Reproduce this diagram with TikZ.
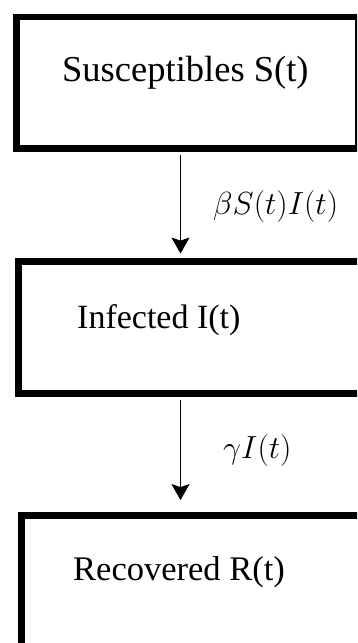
\documentclass[tikz,border=0pt]{standalone}
\usepackage{fix-cm}
\usepackage{fontspec}
\setmainfont{Liberation Serif}
\usetikzlibrary{arrows.meta}

\tikzset{
  compartment/.style={draw=black, line width=6.8pt, rectangle, inner sep=0pt},
  boxtext/.style={anchor=base west, inner sep=0pt},
  flow/.style={draw=black, line width=1.3pt, -{Stealth[length=16pt, width=18pt, inset=3pt]}},
  rate/.style={anchor=base west, inner sep=0pt, font=\fontsize{32}{38}\selectfont}
}

\begin{document}
\begin{tikzpicture}[x=1pt, y=-1pt]
  \clip (0,0) rectangle (357,643);
  \path[use as bounding box] (0,0) rectangle (357,643);

  % compartments (right and lower sides run past the frame)
  \node[compartment, minimum width=341.75pt, minimum height=131.5pt] (S) at (187.4,82.75) {};
  \node[compartment, minimum width=353.5pt, minimum height=132pt] (I) at (195.25,327.5) {};
  \node[compartment, minimum width=350.5pt, minimum height=144.5pt] (R) at (196.75,587.75) {};

  % compartment names
  \node[boxtext, font=\fontsize{36.5}{42}\selectfont] (Stxt) at (62,81.5) {Susceptibles S(t)};
  \node[boxtext, font=\fontsize{34}{40}\selectfont] (Itxt) at (77,328) {Infected I(t)};
  \node[boxtext, font=\fontsize{34.5}{40}\selectfont] (Rtxt) at (73,580) {Recovered R(t)};

  % transitions
  \coordinate (axis) at (180.5,0);
  \draw[flow, shorten <=3.5pt, shorten >=4.5pt] (S.south -| axis) -- (I.north -| axis);
  \draw[flow, shorten <=3.5pt, shorten >=12pt] (I.south -| axis) -- (R.north -| axis);

  % rates
  \node[rate] (beta) at (213,214) {$\beta S(t)I(t)$};
  \node[rate] (gamma) at (223,458) {$\gamma I(t)$};
\end{tikzpicture}
\end{document}
